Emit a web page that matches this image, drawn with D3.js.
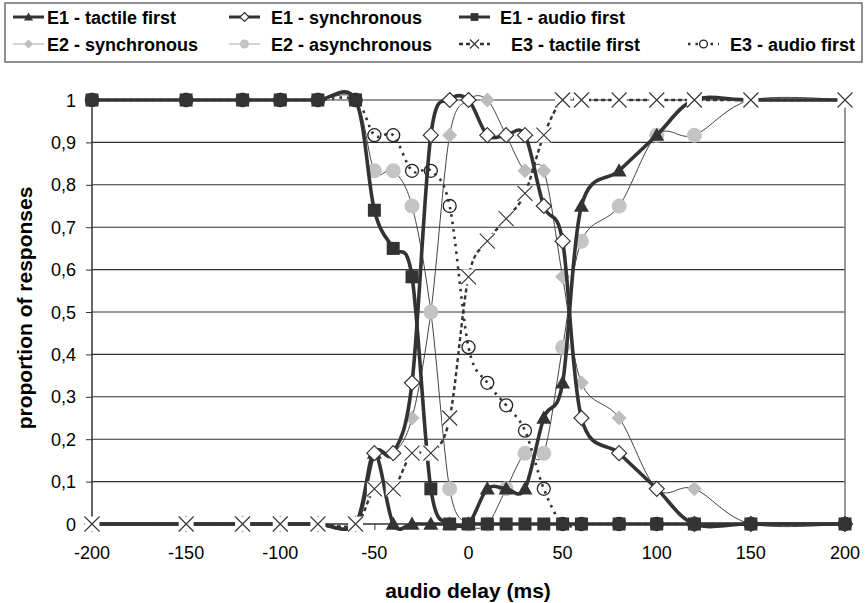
<!DOCTYPE html>
<html>
<head>
<meta charset="utf-8">
<script src="https://d3js.org/d3.v7.min.js"></script>
<style>
  body { margin: 0; background: #fff; }
  svg { display: block; font-family: "Liberation Sans", Arial, sans-serif; }
</style>
</head>
<body>
<div id="chart"></div>
<script>
// audio delays (ms) shared by every series
const delays = [-200, -150, -120, -100, -80, -60, -50, -40, -30, -20, -10, 0, 10, 20, 30, 40, 50, 60, 80, 100, 120, 150, 200]

const e1Tactile = [0, 0, 0, 0, 0, 0, 0.167, 0, 0, 0, 0, 0, 0.083, 0.083, 0.083, 0.25, 0.333, 0.75, 0.833, 0.917, 1, 1, 1]
const e1Sync    = [0, 0, 0, 0, 0, 0, 0.167, 0.167, 0.333, 0.917, 1, 1, 0.917, 0.917, 0.917, 0.75, 0.667, 0.25, 0.167, 0.083, 0, 0, 0]
const e1Audio   = [1, 1, 1, 1, 1, 1, 0.74, 0.65, 0.583, 0.083, 0, 0, 0, 0, 0, 0, 0, 0, 0, 0, 0, 0, 0]
const e2Sync    = [0, 0, 0, 0, 0, 0, 0.167, 0.167, 0.25, 0.5, 0.917, 1, 1, 0.917, 0.833, 0.833, 0.583, 0.333, 0.25, 0.083, 0.083, 0, 0]
const e2Async   = [1, 1, 1, 1, 1, 1, 0.833, 0.833, 0.75, 0.5, 0.083, 0, 0, 0.083, 0.167, 0.167, 0.417, 0.667, 0.75, 0.917, 0.917, 1, 1]
const e3Tactile = [0, 0, 0, 0, 0, 0, 0.083, 0.083, 0.167, 0.167, 0.25, 0.583, 0.667, 0.72, 0.78, 0.917, 1, 1, 1, 1, 1, 1, 1]
const e3Audio   = [1, 1, 1, 1, 1, 1, 0.917, 0.917, 0.833, 0.833, 0.75, 0.417, 0.333, 0.28, 0.22, 0.083, 0, 0, 0, 0, 0, 0, 0]

const xTicks = [-200, -150, -100, -50, 0, 50, 100, 150, 200]
const yTicks = [0, 0.1, 0.2, 0.3, 0.4, 0.5, 0.6, 0.7, 0.8, 0.9, 1]
const yTickLabels = ["0", "0,1", "0,2", "0,3", "0,4", "0,5", "0,6", "0,7", "0,8", "0,9", "1"]

const width = 867
const height = 603

const svg = d3.select('#chart').append('svg').attr('width', width).attr('height', height)

const xScale = d3.scaleLinear().domain([-200, 200]).range([92, 845])
const yScale = d3.scaleLinear().domain([0, 1]).range([524, 100])

// series styles; drawing order picked so the markers stack like the original
const series = [
  { name: 'E2 - synchronous', values: e2Sync, marker: 'diamond', fill: '#bdbdbd', stroke: 'none', line: '#444', lw: 1, dash: null, legendLine: '#aaa' },
  { name: 'E2 - asynchronous', values: e2Async, marker: 'circle', fill: '#c4c4c4', stroke: 'none', line: '#444', lw: 1, dash: null, legendLine: '#aaa' },
  { name: 'E3 - audio first', values: e3Audio, marker: 'ocircle', fill: '#fff', stroke: '#222', line: '#333', lw: 2.6, dash: '2.5,5', lineOnTop: true },
  { name: 'E1 - tactile first', values: e1Tactile, marker: 'triangle', fill: '#333', stroke: 'none', line: '#333', lw: 3.6, dash: null },
  { name: 'E1 - synchronous', values: e1Sync, marker: 'diamond', fill: '#fff', stroke: '#333', line: '#333', lw: 3.6, dash: null },
  { name: 'E1 - audio first', values: e1Audio, marker: 'square', fill: '#333', stroke: 'none', line: '#333', lw: 3.6, dash: null },
  { name: 'E3 - tactile first', values: e3Tactile, marker: 'cross', fill: '#fff', stroke: '#333', line: '#333', lw: 2.4, dash: '4,3' }
]

// gridlines
svg.append('g').selectAll('line').data(yTicks.slice(1)).enter().append('line')
  .attr('x1', xScale(-200)).attr('x2', xScale(200))
  .attr('y1', d => yScale(d)).attr('y2', d => yScale(d))
  .attr('stroke', '#333').attr('stroke-width', 1.1)

// right border
svg.append('line')
  .attr('x1', xScale(200)).attr('x2', xScale(200))
  .attr('y1', yScale(1)).attr('y2', yScale(0))
  .attr('stroke', '#777').attr('stroke-width', 1.5)

const xAxis = d3.axisBottom(xScale).tickValues(xTicks).tickSize(6).tickFormat('')
const yAxis = d3.axisLeft(yScale).tickValues(yTicks).tickSize(6).tickFormat('')

const gx = svg.append('g').attr('transform', 'translate(0,' + yScale(0) + ')').call(xAxis)
const gy = svg.append('g').attr('transform', 'translate(' + xScale(-200) + ',0)').call(yAxis)
gx.select('.domain').attr('d', 'M' + xScale(-200) + ',0H' + xScale(200)).attr('stroke', '#333').attr('stroke-width', 1.5)
gy.select('.domain').attr('d', 'M0,' + yScale(0) + 'V' + yScale(1)).attr('stroke', '#333').attr('stroke-width', 1.5)
svg.selectAll('.tick line').attr('stroke', '#333').attr('stroke-width', 1)

svg.append('g').selectAll('text').data(xTicks).enter().append('text')
  .attr('x', d => xScale(d)).attr('y', 559)
  .attr('text-anchor', 'middle').attr('font-size', '18px').attr('fill', '#000')
  .text(d => d)

svg.append('g').selectAll('text').data(yTicks).enter().append('text')
  .attr('x', 76).attr('y', d => yScale(d) + 6.5)
  .attr('text-anchor', 'end').attr('font-size', '18px').attr('fill', '#000')
  .text((d, i) => yTickLabels[i])

svg.append('text')
  .attr('transform', 'translate(32,308) rotate(-90)')
  .attr('text-anchor', 'middle').attr('font-size', '21px').attr('font-weight', 'bold')
  .text('proportion of responses')

svg.append('text')
  .attr('x', 468).attr('y', 598)
  .attr('text-anchor', 'middle').attr('font-size', '21px').attr('font-weight', 'bold')
  .text('audio delay (ms)')

function drawMarker(g, s, x, y, scale) {
  const k = scale || 1
  if (s.marker === 'square') {
    g.append('rect').attr('x', x - 6.5 * k).attr('y', y - 6.5 * k).attr('width', 13 * k).attr('height', 13 * k)
      .attr('fill', s.fill)
  } else if (s.marker === 'triangle') {
    const r = 7.5 * k
    g.append('path').attr('d', 'M' + x + ',' + (y - r) + 'L' + (x + r) + ',' + (y + r * 0.75) + 'L' + (x - r) + ',' + (y + r * 0.75) + 'Z')
      .attr('fill', s.fill)
  } else if (s.marker === 'diamond') {
    const r = 7.5 * k
    g.append('path').attr('d', 'M' + x + ',' + (y - r) + 'L' + (x + r) + ',' + y + 'L' + x + ',' + (y + r) + 'L' + (x - r) + ',' + y + 'Z')
      .attr('fill', s.fill).attr('stroke', s.stroke).attr('stroke-width', 1.2)
  } else if (s.marker === 'circle') {
    g.append('circle').attr('cx', x).attr('cy', y).attr('r', 7.5 * k).attr('fill', s.fill)
  } else if (s.marker === 'ocircle') {
    g.append('circle').attr('cx', x).attr('cy', y).attr('r', 6.5 * k).attr('fill', s.fill)
      .attr('stroke', s.stroke).attr('stroke-width', 1.3)
  } else if (s.marker === 'cross') {
    const r = 7.5 * k
    g.append('rect').attr('x', x - r).attr('y', y - r).attr('width', 2 * r).attr('height', 2 * r).attr('fill', '#fff')
    g.append('path').attr('d', 'M' + (x - r) + ',' + (y - r) + 'L' + (x + r) + ',' + (y + r) + 'M' + (x + r) + ',' + (y - r) + 'L' + (x - r) + ',' + (y + r))
      .attr('stroke', s.stroke).attr('stroke-width', 1.1).attr('fill', 'none')
  }
}

const line = d3.line()
  .x(d => xScale(d[0]))
  .y(d => yScale(d[1]))
  .curve(d3.curveCardinal.tension(0))

series.forEach(function(s) {
  const pts = delays.map((d, i) => [d, s.values[i]])
  const g = svg.append('g')
  function drawLine() {
    g.append('path').attr('d', line(pts))
      .attr('fill', 'none').attr('stroke', s.line).attr('stroke-width', s.lw)
      .attr('stroke-dasharray', s.dash)
  }
  if (!s.lineOnTop) drawLine()
  pts.forEach(p => drawMarker(g, s, xScale(p[0]), yScale(p[1])))
  if (s.lineOnTop) drawLine()
})

// legend
const legendOrder = [
  { name: 'E1 - tactile first', col: 0, row: 0, textX: 47 },
  { name: 'E1 - synchronous', col: 1, row: 0, textX: 271 },
  { name: 'E1 - audio first', col: 2, row: 0, textX: 500 },
  { name: 'E2 - synchronous', col: 0, row: 1, textX: 47 },
  { name: 'E2 - asynchronous', col: 1, row: 1, textX: 271 },
  { name: 'E3 - tactile first', col: 2, row: 1, textX: 511 },
  { name: 'E3 - audio first', col: 3, row: 1, textX: 730 }
]
const colX = [13, 229, 459, 688]
const rowY = [17, 44]

svg.append('rect').attr('x', 5).attr('y', 3).attr('width', 857).attr('height', 59)
  .attr('fill', '#fff').attr('stroke', '#555').attr('stroke-width', 1.3)

legendOrder.forEach(function(l) {
  const s = series.find(d => d.name === l.name)
  const g = svg.append('g')
  const x0 = colX[l.col]
  const y0 = rowY[l.row]
  g.append('line').attr('x1', x0).attr('x2', x0 + 31).attr('y1', y0).attr('y2', y0)
    .attr('stroke', s.legendLine || s.line).attr('stroke-width', Math.min(s.lw, 3))
    .attr('stroke-dasharray', s.dash)
  drawMarker(g, s, x0 + 15.5, y0, 0.6)
  g.append('text').attr('x', l.textX).attr('y', y0 + 6.5)
    .attr('font-size', '18px').attr('font-weight', 'bold').attr('fill', '#000')
    .text(l.name)
})
</script>
</body>
</html>
